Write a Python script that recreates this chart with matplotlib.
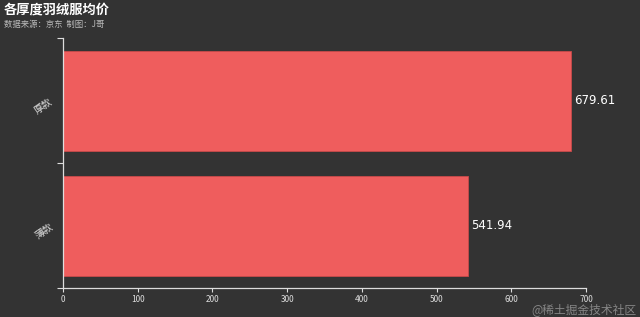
import matplotlib.pyplot as plt

plt.rcParams['font.family'] = ['Noto Sans CJK SC', 'DejaVu Sans']

# 各厚度羽绒服均价 (京东)
categories = ['薄款', '厚款']
avg_price = [541.94, 679.61]

BG = '#333333'
BAR = '#ef5d5d'
FG = '#dddddd'

fig = plt.figure(figsize=(6.4, 3.17), dpi=100, facecolor=BG)
ax = fig.add_axes([63 / 640, 1 - 288 / 317, (586 - 63) / 640, (288 - 38) / 317])
ax.set_facecolor(BG)

ypos = range(len(categories))
bars = ax.barh(ypos, avg_price, height=0.8, color=BAR, edgecolor='#c84a4a', linewidth=0.6)
for y, v in zip(ypos, avg_price):
    ax.text(v + 4, y, f'{v:.2f}', va='center', ha='left', color='white', fontsize=8.5,
            family='DejaVu Sans')

ax.set_xlim(0, 700)
ax.set_ylim(-0.5, len(categories) - 0.5)
ax.set_xticks(range(0, 701, 100))
ax.set_xticklabels([str(t) for t in range(0, 701, 100)], fontsize=6, color=FG)

# category ticks sit on the band boundaries, labels in the middle
ax.set_yticks([-0.5, 0.5, 1.5])
ax.set_yticklabels([])
ax.set_yticks(list(ypos), minor=True)
ax.set_yticklabels(categories, minor=True, rotation=35, fontsize=7, color=FG)
ax.tick_params(axis='y', which='minor', length=0, pad=6)
ax.tick_params(axis='y', which='major', length=4, color=FG, width=0.8)
ax.tick_params(axis='x', length=3, color=FG, width=0.8, pad=2)

for side in ['top', 'right']:
    ax.spines[side].set_visible(False)
for side in ['left', 'bottom']:
    ax.spines[side].set_color(FG)
    ax.spines[side].set_linewidth(0.9)

fig.text(4 / 640, 1 - 9 / 317, '各厚度羽绒服均价', fontsize=9.5, fontweight='bold',
         color='white', va='center', ha='left')
fig.text(4 / 640, 1 - 24 / 317, '数据来源：京东  制图：J哥', fontsize=6,
         color='#bbbbbb', va='center', ha='left')
fig.text(636 / 640, 1 - 310 / 317, '@稀土掘金技术社区', fontsize=8.5,
         color='#9a9a9a', alpha=0.8, va='center', ha='right')

fig.savefig('out.png', dpi=100, facecolor=BG)
